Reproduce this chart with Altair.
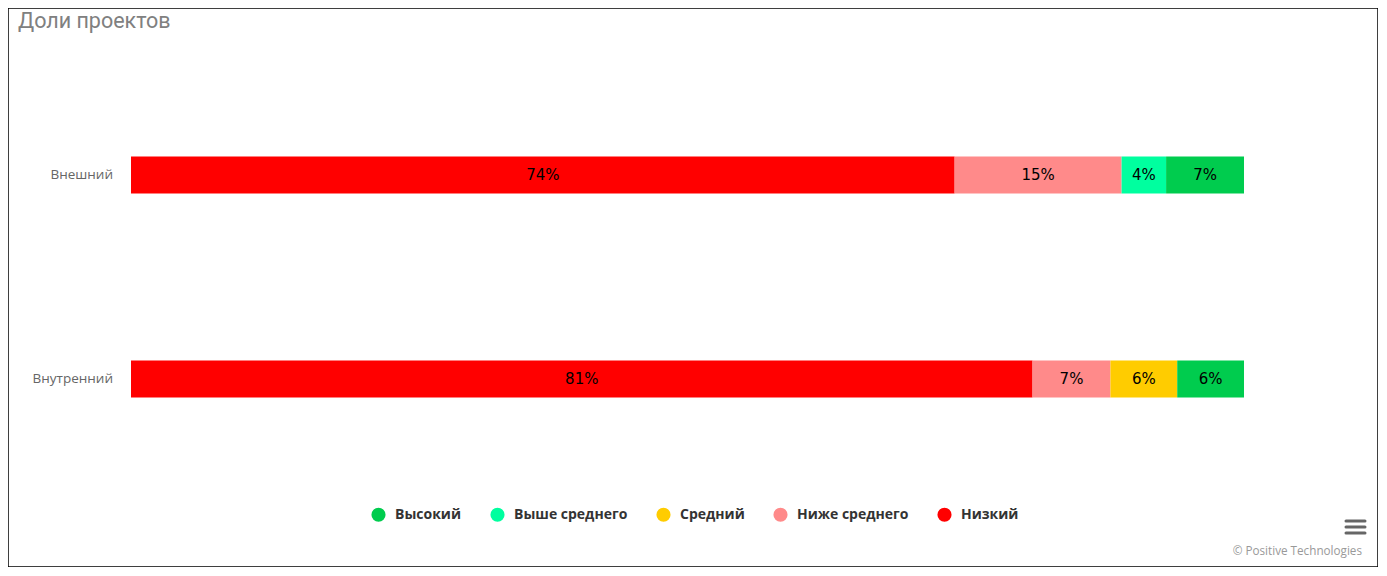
import altair as alt
import pandas as pd

# ---- data ----
categories = ["Внешний", "Внутренний"]
series = ["Низкий", "Ниже среднего", "Средний", "Выше среднего", "Высокий"]
low = [74, 81]
below_avg = [15, 7]
medium = [0, 6]
above_avg = [4, 0]
high = [7, 6]
legend_order = ["Высокий", "Выше среднего", "Средний", "Ниже среднего", "Низкий"]
colors = ["#00CC4E", "#00FF9F", "#FFCC00", "#FF8A8A", "#FF0000"]
title_text = "Доли проектов"
credits_text = "© Positive Technologies"

values = [low, below_avg, medium, above_avg, high]
rows = []
for i, (s, vals) in enumerate(zip(series, values)):
    for c, v in zip(categories, vals):
        rows.append({"cat": c, "series": s, "value": v, "order": i})
df = pd.DataFrame(rows)
cat_df = pd.DataFrame({"cat": categories})

W, H = 1370, 559
px_per = 1113 / 100.0
left = 123
xscale = alt.Scale(domain=[-left / px_per, (W - left) / px_per], nice=False, zero=False)
yscale = alt.Scale(domain=categories, range=[65, 473], paddingInner=0.8186, paddingOuter=0.4093)

base = (
    alt.Chart(df)
    .transform_filter("datum.value > 0")
    .transform_stack(
        stack="value",
        groupby=["cat"],
        sort=[alt.SortField("order", order="ascending")],
        as_=["x0", "x1"],
    )
    .transform_calculate(mid="(datum.x0 + datum.x1) / 2", label="datum.value + '%'")
)

bars = base.mark_bar().encode(
    x=alt.X("x0:Q", scale=xscale, axis=None),
    x2="x1:Q",
    y=alt.Y("cat:N", scale=yscale, sort=categories, axis=None),
    color=alt.Color(
        "series:N",
        scale=alt.Scale(domain=legend_order, range=colors),
        legend=alt.Legend(
            orient="none", legendX=363, legendY=499, direction="horizontal", title=None,
            symbolType="circle", symbolSize=200, symbolStrokeWidth=0,
            labelFont="Open Sans", labelFontSize=14, labelFontWeight="bold",
            labelColor="#333333", columnPadding=28, labelOffset=9,
        ),
    ),
)

labels = base.mark_text(fontSize=15, font="DejaVu Sans", color="#000000", baseline="middle").encode(
    x=alt.X("mid:Q", scale=xscale, axis=None),
    y=alt.Y("cat:N", scale=yscale, sort=categories, axis=None),
    text="label:N",
)

cat_labels = alt.Chart(cat_df).mark_text(
    align="right", baseline="middle", fontSize=13.5, font="Open Sans", color="#666666"
).encode(
    x=alt.value(105),
    y=alt.Y("cat:N", scale=yscale, sort=categories, axis=None),
    text="cat:N",
)

one = alt.Data(values=[{}])
title = alt.Chart(one).mark_text(
    align="left", baseline="middle", fontSize=21.5, font="Roboto", color="#808080"
).encode(x=alt.value(10), y=alt.value(13.5), text=alt.value(title_text))

credits = alt.Chart(one).mark_text(
    align="right", baseline="middle", fontSize=11.7, font="Open Sans", color="#999999"
).encode(x=alt.value(1354), y=alt.value(543), text=alt.value(credits_text))

menu = [
    alt.Chart(one).mark_rule(color="#666666", strokeWidth=3, strokeCap="round").encode(
        x=alt.value(1338), x2=alt.value(1357), y=alt.value(yy)
    )
    for yy in (513, 519, 525)
]

chart = (
    alt.layer(bars, labels, cat_labels, title, credits, *menu)
    .properties(
        width=W, height=H, autosize=alt.AutoSizeParams(type="none"), padding=0,
        background="#ffffff",
    )
    .configure_view(stroke="#000000", strokeWidth=1.5)
)

chart.save("out.html", embed_options={"renderer": "svg", "actions": False})
